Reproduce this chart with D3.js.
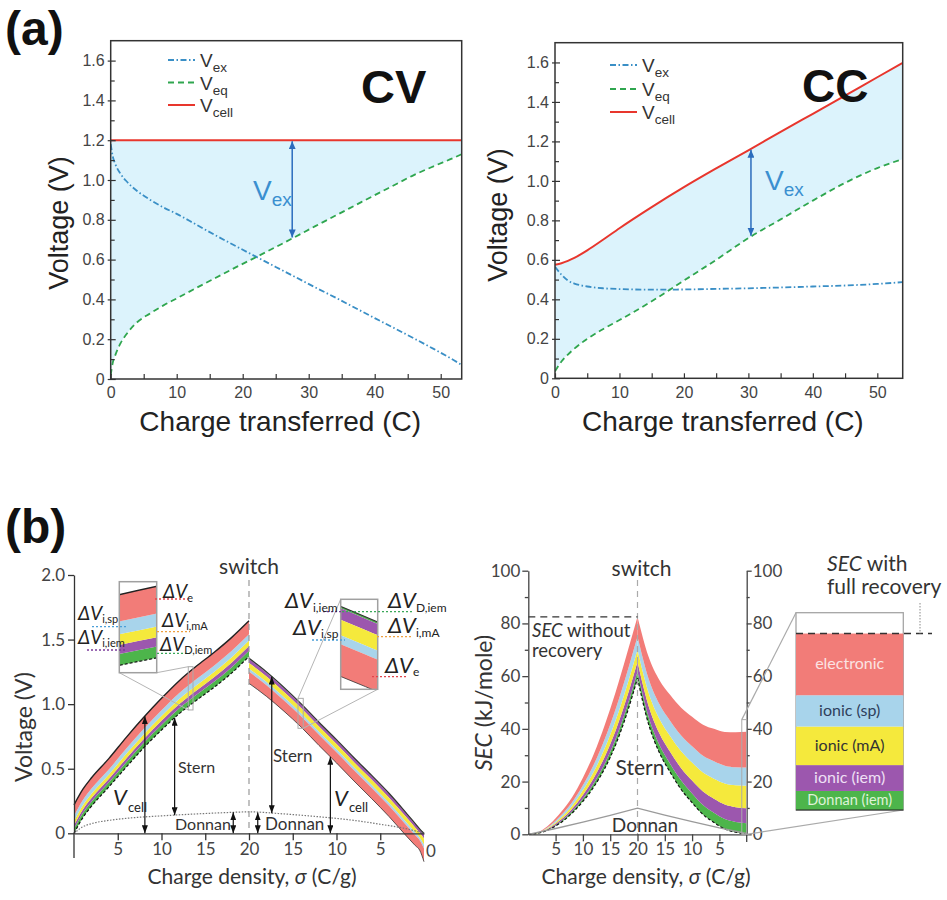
<!DOCTYPE html>
<html>
<head>
<meta charset="utf-8">
<title>Capacitive deionization: voltage and energy breakdown</title>
<script src="https://cdn.jsdelivr.net/npm/d3@7"></script>
<style>
  html, body { margin: 0; padding: 0; background: #fff; }
  svg { display: block; }
  .pa text { font-family: "Liberation Sans", Arial, Helvetica, sans-serif; }
  .pb text { font-family: Lato, "Open Sans", sans-serif; }
</style>
</head>
<body>
<svg id="fig" width="947" height="900"></svg>
<script>
// ================= (a) constant-voltage (CV) charging =================
const cvCharge = [0, 0.3, 0.7, 1.5, 2.5, 4, 6, 8, 10, 13, 16, 19, 22, 25, 28, 31, 34, 37, 40, 43, 46, 49, 52, 53.2];
const cvVeq    = [0.02, 0.08, 0.12, 0.18, 0.23, 0.285, 0.33, 0.37, 0.405, 0.458, 0.51, 0.562, 0.612, 0.663, 0.715, 0.768, 0.82, 0.872, 0.924, 0.975, 1.026, 1.07, 1.112, 1.13];
const cvVex    = [1.18, 1.12, 1.08, 1.03, 0.99, 0.945, 0.9, 0.862, 0.83, 0.775, 0.72, 0.667, 0.615, 0.563, 0.512, 0.46, 0.41, 0.358, 0.306, 0.255, 0.203, 0.15, 0.094, 0.07];
const cvVcellLevel = 1.2;

// ================= (a) constant-current (CC) charging =================
const ccCharge = [0, 1, 2, 3, 5, 7.5, 10, 15, 20, 25, 30, 35, 40, 45, 50, 53.9];
const ccVcell  = [0.575, 0.583, 0.595, 0.61, 0.648, 0.703, 0.76, 0.867, 0.968, 1.063, 1.155, 1.248, 1.34, 1.432, 1.525, 1.597];
const ccVeq    = [0.035, 0.085, 0.12, 0.15, 0.2, 0.25, 0.295, 0.39, 0.495, 0.6, 0.71, 0.805, 0.9, 0.99, 1.065, 1.11];
const ccVex    = [0.565, 0.525, 0.495, 0.48, 0.465, 0.456, 0.452, 0.449, 0.45, 0.453, 0.456, 0.46, 0.465, 0.47, 0.478, 0.487];

const aYTicks = [0, 0.1, 0.2, 0.3, 0.4, 0.5, 0.6, 0.7, 0.8, 0.9, 1.0, 1.1, 1.2, 1.3, 1.4, 1.5, 1.6];
const aXTicks = [0, 5, 10, 15, 20, 25, 30, 35, 40, 45, 50];

// ================= (b) cell voltage breakdown (V) =================
// charging leg: position on axis == sigma
const bSigmaCharge  = [0, 1, 2, 4, 6, 8, 10, 12, 14, 16, 18, 20];
const bBaseCharge   = [0, 0.12, 0.21, 0.36, 0.515, 0.665, 0.80, 0.925, 1.03, 1.13, 1.24, 1.37]; // Stern + Donnan
const bGreenCharge  = [0.035, 0.035, 0.035, 0.035, 0.037, 0.038, 0.039, 0.041, 0.042, 0.043, 0.044, 0.044]; // dV D,iem
const bPurpleCharge = [0.028, 0.028, 0.028, 0.028, 0.03, 0.03, 0.032, 0.033, 0.034, 0.035, 0.036, 0.036]; // dV i,iem
const bYellowCharge = [0.033, 0.033, 0.033, 0.033, 0.035, 0.036, 0.037, 0.039, 0.04, 0.041, 0.042, 0.042]; // dV i,mA
const bBlueCharge   = [0.04, 0.04, 0.04, 0.04, 0.041, 0.042, 0.044, 0.046, 0.048, 0.049, 0.05, 0.05];   // dV i,sp
const bRedCharge    = [0.084, 0.084, 0.084, 0.084, 0.087, 0.089, 0.093, 0.096, 0.101, 0.102, 0.103, 0.103]; // dV e
// discharging leg: sigma runs back from 20 to 0
const bSigmaDischarge = [20, 18, 16, 14, 12, 10, 8, 6, 4, 2, 1, 0.5, 0];
const bTopDischarge   = [1.355, 1.25, 1.13, 1.0, 0.86, 0.725, 0.585, 0.45, 0.31, 0.155, 0.075, 0.035, 0.0];
const bGreenDis  = [0.006, 0.006, 0.006, 0.005, 0.005, 0.005, 0.005, 0.005, 0.005, 0.005, 0.005, 0.005, 0.006];
const bPurpleDis = [0.031, 0.03, 0.03, 0.029, 0.029, 0.029, 0.029, 0.029, 0.029, 0.028, 0.027, 0.026, 0.035];
const bYellowDis = [0.043, 0.042, 0.041, 0.04, 0.04, 0.04, 0.04, 0.04, 0.04, 0.039, 0.037, 0.036, 0.048];
const bBlueDis   = [0.025, 0.025, 0.024, 0.023, 0.023, 0.023, 0.023, 0.023, 0.023, 0.023, 0.022, 0.021, 0.029];
const bRedDis    = [0.089, 0.087, 0.084, 0.083, 0.083, 0.083, 0.083, 0.083, 0.083, 0.082, 0.079, 0.077, 0.102];
// Donnan potential along the whole cycle (axis position 0..40)
const bDonnanPos = [0, 1, 2, 4, 6, 10, 14, 18, 20, 24, 28, 32, 35, 38, 40];
const bDonnanV   = [0, 0.05, 0.075, 0.1, 0.116, 0.135, 0.15, 0.162, 0.166, 0.15, 0.128, 0.1, 0.07, 0.035, 0.0];

const bAxisTicks = [5, 10, 15, 20, 25, 30, 35];
const bAxisTickLabels = ["5", "10", "15", "20", "15", "10", "5"];
const bYTicks = [0, 0.5, 1.0, 1.5, 2.0];

// ================= (b) specific energy consumption (kJ/mole) =================
const secSigmaCharge  = [0, 2, 4, 6, 8, 10, 12, 14, 16, 18, 20];
const secSternCharge  = [0, 0.5, 2, 4.5, 8, 12.5, 18, 25, 34, 45.5, 59.2];
const secGreenCharge  = [0, 0.05, 0.21, 0.43, 0.64, 0.96, 1.34, 1.77, 2.14, 2.41, 2.5];
const secPurpleCharge = [0, 0.08, 0.33, 0.65, 0.98, 1.47, 2.04, 2.69, 3.26, 3.67, 3.8];
const secYellowCharge = [0, 0.1, 0.39, 0.77, 1.16, 1.74, 2.41, 3.18, 3.86, 4.34, 4.5];
const secBlueCharge   = [0, 0.11, 0.43, 0.86, 1.29, 1.94, 2.69, 3.55, 4.3, 4.84, 5.0];
const secRedCharge    = [0, 0.16, 0.64, 1.29, 1.93, 2.89, 4.02, 5.31, 6.44, 7.24, 7.5];
const secSigmaDischarge = [20, 18, 16, 14, 12, 10, 8, 6, 4, 2, 0];
const secSternDis  = [59.2, 42, 31, 23.5, 17, 12, 7.5, 4.5, 2, 0.8, 0.2];
const secGreenDis  = [2.5, 2.8, 3.0, 3.2, 3.4, 3.5, 3.6, 3.7, 3.8, 3.9, 4.0];
const secPurpleDis = [3.8, 4.1, 4.3, 4.5, 4.7, 4.9, 5.1, 5.3, 5.5, 5.6, 5.7];
const secYellowDis = [4.5, 5.0, 5.5, 6.0, 6.4, 6.8, 7.2, 7.6, 8.0, 8.3, 8.5];
const secBlueDis   = [5.0, 5.3, 5.6, 5.8, 6.0, 6.2, 6.4, 6.6, 6.7, 6.8, 6.9];
const secRedDis    = [7.5, 8.3, 9.1, 9.8, 10.5, 11.2, 11.8, 12.3, 12.8, 13.3, 13.6];
const secDonnanPos = [0, 5, 10, 15, 20, 25, 30, 35, 40];
const secDonnan    = [0, 2.2, 4.6, 7.2, 9.9, 7.3, 4.8, 2.4, 0.3];
const secYTicks = [0, 10, 20, 30, 40, 50, 60, 70, 80, 90, 100];
const secBarNames = ["Donnan (iem)", "ionic (iem)", "ionic (mA)", "ionic (sp)", "electronic"];

// layer colours, bottom (Donnan iem) to top (electronic)
const layerFill = ["#4db54b", "#9c57ae", "#f5e93c", "#a8d4eb", "#f27c78"];
const barTextFill = ["#dff3d8", "#efe0f5", "#333333", "#2e3f5c", "#fbe3e3"];

// ---------------------------------------------------------------------
const svg = d3.select("#fig");
const defs = svg.append("defs");

function arrowMarker(id, color, w, h) {
  defs.append("marker").attr("id", id)
    .attr("viewBox", "0 0 10 10").attr("preserveAspectRatio", "none")
    .attr("refX", 10).attr("refY", 5)
    .attr("markerUnits", "userSpaceOnUse")
    .attr("markerWidth", w).attr("markerHeight", h)
    .attr("orient", "auto-start-reverse")
    .append("path").attr("d", "M0,0 L10,5 L0,10 Z").attr("fill", color);
}
arrowMarker("arrBlue", "#2b6cbd", 8, 7);
arrowMarker("arrBlack", "#111", 8, 6);

function lerp(xs, ys, x) {
  const i = Math.max(1, Math.min(xs.length - 1, d3.bisectLeft(xs, x)));
  const x0 = xs[i - 1], x1 = xs[i];
  return ys[i - 1] + (ys[i] - ys[i - 1]) * (x - x0) / (x1 - x0);
}
function stackUp(base, layers) {
  const out = [base.slice()];
  layers.forEach(l => { const p = out[out.length - 1]; out.push(p.map((v, i) => v + l[i])); });
  return out;
}
function stackDown(top, layers) {
  const out = [top.slice()];
  layers.forEach(l => { const p = out[out.length - 1]; out.push(p.map((v, i) => v - l[i])); });
  return out;
}
function subLabel(parent, x, y, main, sub, o) {
  const t = parent.append("text").attr("x", x).attr("y", y)
    .attr("font-size", o.size).attr("fill", o.color || "#222");
  t.append("tspan").text(main).attr("font-style", o.italic ? "italic" : null);
  const s = t.append("tspan").text(sub).attr("font-size", o.subSize).attr("dy", o.subDy);
  if (o.subX != null) s.attr("x", o.subX);
  if (o.subDx) s.attr("dx", o.subDx);
  return t;
}

// ================= panel (a) =================
const styleEx   = { stroke: "#3a8fc6", dash: "6,2.5,1.5,2.5", width: 1.8 };
const styleEq   = { stroke: "#2fa64f", dash: "6,4", width: 1.8 };
const styleCell = { stroke: "#e8362d", dash: null, width: 2 };

function drawPanelA(cfg) {
  const g = svg.append("g").attr("class", "pa");
  const x = d3.scaleLinear([0, cfg.xMax], [cfg.left, cfg.right]);
  const y = d3.scaleLinear([0, 1.7], [cfg.bottom, cfg.top]);
  const clipId = cfg.id + "-clip";
  defs.append("clipPath").attr("id", clipId).append("rect")
    .attr("x", cfg.left).attr("y", cfg.top)
    .attr("width", cfg.right - cfg.left).attr("height", cfg.bottom - cfg.top);
  const plot = g.append("g").attr("clip-path", `url(#${clipId})`);
  const idx = d3.range(cfg.charge.length);

  // excess-voltage region between V_cell and V_eq
  plot.append("path").attr("fill", "#dcf3fc")
    .attr("d", d3.area().x(i => x(cfg.charge[i])).y0(i => y(cfg.veq[i])).y1(i => y(cfg.vcell[i]))
      .curve(d3.curveMonotoneX)(idx));

  const line = arr => d3.line().x(i => x(cfg.charge[i])).y(i => y(arr[i])).curve(d3.curveMonotoneX)(idx);
  [[cfg.vex, styleEx], [cfg.veq, styleEq], [cfg.vcell, styleCell]].forEach(([arr, st]) => {
    plot.append("path").attr("d", line(arr)).attr("fill", "none")
      .attr("stroke", st.stroke).attr("stroke-width", st.width).attr("stroke-dasharray", st.dash);
  });

  // V_ex arrow
  const ac = cfg.arrowC;
  const aTop = lerp(cfg.charge, cfg.vcell, ac), aBot = lerp(cfg.charge, cfg.veq, ac);
  g.append("line").attr("x1", x(ac)).attr("x2", x(ac)).attr("y1", y(aTop) + 1).attr("y2", y(aBot) - 1)
    .attr("stroke", "#2b6cbd").attr("stroke-width", 1.5)
    .attr("marker-start", "url(#arrBlue)").attr("marker-end", "url(#arrBlue)");
  subLabel(g, cfg.vexLabel[0], cfg.vexLabel[1], "V", "ex", { size: 28, subSize: 19, subDy: 6, color: "#3a8fd0" });

  // frame
  g.append("rect").attr("x", cfg.left).attr("y", cfg.top)
    .attr("width", cfg.right - cfg.left).attr("height", cfg.bottom - cfg.top)
    .attr("fill", "none").attr("stroke", "#333").attr("stroke-width", 1.5);

  // axes
  const ya = g.append("g").attr("transform", `translate(${cfg.left},0)`)
    .call(d3.axisLeft(y).tickValues(aYTicks).tickSize(0).tickPadding(6)
      .tickFormat((d, i) => i % 2 ? "" : (d === 0 ? "0" : d.toFixed(1))));
  ya.select(".domain").remove();
  ya.selectAll(".tick line").attr("x1", (d, i) => i % 2 ? 0 : -3).attr("x2", (d, i) => i % 2 ? 4 : 5)
    .attr("stroke", "#333").attr("stroke-width", 1.2);
  ya.selectAll("text").attr("font-size", 16).attr("fill", "#444");

  const xa = g.append("g").attr("transform", `translate(0,${cfg.bottom})`)
    .call(d3.axisBottom(x).tickValues(aXTicks).tickSize(-5).tickPadding(8)
      .tickFormat(d => d % 10 === 0 ? d : ""));
  xa.select(".domain").remove();
  xa.selectAll(".tick line").attr("stroke", "#333").attr("stroke-width", 1.2);
  xa.selectAll("text").attr("font-size", 16).attr("fill", "#444");

  g.append("text").attr("x", (cfg.left + cfg.right) / 2 - 6).attr("y", 431).attr("text-anchor", "middle")
    .attr("font-size", 28).attr("fill", "#222").text("Charge transferred (C)");
  g.append("text").attr("transform", `translate(${cfg.yTitleX},${cfg.yTitleY}) rotate(-90)`)
    .attr("text-anchor", "middle").attr("font-size", 27).attr("fill", "#222").text("Voltage (V)");

  // legend
  const leg = [["ex", styleEx], ["eq", styleEq], ["cell", styleCell]];
  leg.forEach(([s, st], i) => {
    const ry = cfg.legend.rows[i];
    g.append("line").attr("x1", cfg.legend.x).attr("x2", cfg.legend.x + 27).attr("y1", ry).attr("y2", ry)
      .attr("stroke", st.stroke).attr("stroke-width", st.width).attr("stroke-dasharray", st.dash);
    subLabel(g, cfg.legend.x + 32, ry + 7, "V", s, { size: 19, subSize: 13.5, subDy: 5, color: "#333" });
  });

  g.append("text").attr("x", cfg.tag[0]).attr("y", cfg.tag[1]).attr("font-size", cfg.tag[2])
    .attr("font-weight", "bold").attr("fill", "#111").text(cfg.tag[3]);
}

drawPanelA({
  id: "cv", left: 110.7, right: 461.7, top: 40.7, bottom: 379, xMax: 53.18,
  charge: cvCharge, veq: cvVeq, vex: cvVex, vcell: cvCharge.map(() => cvVcellLevel),
  arrowC: 27.5, vexLabel: [253, 200], yTitleX: 68, yTitleY: 223,
  legend: { x: 168, rows: [60, 82.5, 105] }, tag: [361, 103, 47, "CV"]
});
drawPanelA({
  id: "cc", left: 555, right: 902.7, top: 42.7, bottom: 378.3, xMax: 53.94,
  charge: ccCharge, veq: ccVeq, vex: ccVex, vcell: ccVcell,
  arrowC: 30.4, vexLabel: [765, 190], yTitleX: 507, yTitleY: 215,
  legend: { x: 610, rows: [65, 89, 112] }, tag: [802, 102, 46, "CC"]
});

// panel tags
const tags = svg.append("g").attr("class", "pa");
tags.append("text").attr("x", 5).attr("y", 45).attr("font-size", 48).attr("font-weight", "bold").attr("fill", "#111").text("(a)");
tags.append("text").attr("x", 5).attr("y", 543).attr("font-size", 48).attr("font-weight", "bold").attr("fill", "#111").text("(b)");

// ================= panel (b), left: voltage breakdown =================
const gb = svg.append("g").attr("class", "pb");
const bx = d3.scaleLinear([0, 40], [74, 424]);
const by = d3.scaleLinear([0, 2], [833.3, 575]);
const bChPos = bSigmaCharge;
const bDisPos = bSigmaDischarge.map(s => 40 - s);
const bChB = stackUp(bBaseCharge, [bGreenCharge, bPurpleCharge, bYellowCharge, bBlueCharge, bRedCharge]);
const bDisB = stackDown(bTopDischarge, [bGreenDis, bPurpleDis, bYellowDis, bBlueDis, bRedDis]);

function drawVoltageBands(parent, X, Y, lw) {
  const chIdx = d3.range(bChPos.length), disIdx = d3.range(bDisPos.length);
  for (let k = 0; k < 5; k++) {
    parent.append("path").attr("fill", layerFill[k])
      .attr("d", d3.area().x(i => X(bChPos[i])).y0(i => Y(bChB[k][i])).y1(i => Y(bChB[k + 1][i]))
        .curve(d3.curveMonotoneX)(chIdx));
    parent.append("path").attr("fill", layerFill[k])
      .attr("d", d3.area().x(i => X(bDisPos[i])).y0(i => Y(bDisB[k][i])).y1(i => Y(bDisB[k + 1][i]))
        .curve(d3.curveMonotoneX)(disIdx));
  }
  const ln = (pos, arr) => d3.line().x(i => X(pos[i])).y(i => Y(arr[i])).curve(d3.curveMonotoneX)(d3.range(pos.length));
  parent.append("path").attr("d", ln(bChPos, bChB[5])).attr("fill", "none").attr("stroke", "#222").attr("stroke-width", 1.4 * lw);
  parent.append("path").attr("d", ln(bChPos, bChB[0])).attr("fill", "none").attr("stroke", "#111")
    .attr("stroke-width", 1.2 * lw).attr("stroke-dasharray", `${3 * lw},${2 * lw}`);
  parent.append("path").attr("d", ln(bDisPos, bDisB[0])).attr("fill", "none").attr("stroke", "#333").attr("stroke-width", 1.2 * lw);
  parent.append("path").attr("d", ln(bDisPos, bDisB[5])).attr("fill", "none").attr("stroke", "#333").attr("stroke-width", 0.8 * lw);
}
drawVoltageBands(gb.append("g"), bx, by, 1);

// Donnan potential
gb.append("path")
  .attr("d", d3.line().x(i => bx(bDonnanPos[i])).y(i => by(bDonnanV[i])).curve(d3.curveMonotoneX)(d3.range(bDonnanPos.length)))
  .attr("fill", "none").attr("stroke", "#777").attr("stroke-width", 1.2).attr("stroke-dasharray", "1.5,1.5");

// switch line
gb.append("line").attr("x1", bx(20)).attr("x2", bx(20)).attr("y1", 580).attr("y2", by(0))
  .attr("stroke", "#999").attr("stroke-width", 1.2).attr("stroke-dasharray", "6,5");
gb.append("text").attr("x", bx(20)).attr("y", 574).attr("text-anchor", "middle").attr("font-size", 21).attr("fill", "#333").text("switch");

// axes
const byAx = gb.append("g").attr("transform", `translate(${bx(0)},0)`)
  .call(d3.axisLeft(by).tickValues(bYTicks).tickSize(6).tickSizeOuter(0).tickPadding(3)
    .tickFormat(d => d === 0 ? "0" : d.toFixed(1)));
byAx.selectAll("text").attr("font-size", 17).attr("fill", "#444");
byAx.selectAll("path,line").attr("stroke", "#333").attr("stroke-width", 1.3);
gb.append("line").attr("x1", bx(0)).attr("x2", bx(0)).attr("y1", by(0)).attr("y2", 858).attr("stroke", "#333").attr("stroke-width", 1.3);
const bxAx = gb.append("g").attr("transform", `translate(0,${by(0)})`)
  .call(d3.axisBottom(bx).tickValues(bAxisTicks).tickSize(7).tickSizeOuter(0).tickPadding(3)
    .tickFormat((d, i) => bAxisTickLabels[i]));
bxAx.selectAll("text").attr("font-size", 17).attr("fill", "#444");
bxAx.selectAll("path,line").attr("stroke", "#333").attr("stroke-width", 1.3);
gb.append("text").attr("x", bx(40) + 7).attr("y", 857).attr("text-anchor", "middle").attr("font-size", 17).attr("fill", "#444").text("0");

const bxTitle = gb.append("text").attr("x", 252).attr("y", 884).attr("text-anchor", "middle").attr("font-size", 21).attr("fill", "#333");
bxTitle.append("tspan").text("Charge density, ");
bxTitle.append("tspan").attr("font-style", "italic").text("σ");
bxTitle.append("tspan").text(" (C/g)");
gb.append("text").attr("transform", "translate(32,727) rotate(-90)").attr("text-anchor", "middle")
  .attr("font-size", 23).attr("fill", "#333").text("Voltage (V)");

// arrows: position on axis, lower end, upper end
const ch = (arr) => (t) => lerp(bChPos, arr, t);
const dis = (arr) => (t) => lerp(bDisPos, arr, t);
const donnanAt = (t) => lerp(bDonnanPos, bDonnanV, t);
const bArrows = [
  [8.1, () => 0, ch(bChB[5])],
  [11.5, donnanAt, ch(bChB[0])],
  [18.2, () => 0, donnanAt],
  [21.0, () => 0, donnanAt],
  [22.6, donnanAt, dis(bDisB[0])],
  [29.3, () => 0, dis(bDisB[5])]
];
bArrows.forEach(([t, lo, hi]) => {
  gb.append("line").attr("x1", bx(t)).attr("x2", bx(t)).attr("y1", by(lo(t))).attr("y2", by(hi(t)))
    .attr("stroke", "#111").attr("stroke-width", 1.2)
    .attr("marker-start", "url(#arrBlack)").attr("marker-end", "url(#arrBlack)");
});
subLabel(gb, 113, 805, "V", "cell", { size: 22, subSize: 13, subDy: 7, subX: 128, italic: true, color: "#222" });
subLabel(gb, 334, 806, "V", "cell", { size: 22, subSize: 13, subDy: 6, subX: 349, italic: true, color: "#222" });
gb.append("text").attr("x", 178).attr("y", 773).attr("font-size", 16).attr("fill", "#333").text("Stern");
gb.append("text").attr("x", 273).attr("y", 762).attr("font-size", 17).attr("fill", "#333").text("Stern");
gb.append("text").attr("x", 175).attr("y", 830).attr("font-size", 16).attr("fill", "#333").text("Donnan");
gb.append("text").attr("x", 265).attr("y", 830).attr("font-size", 17).attr("fill", "#333").text("Donnan");

// magnified insets of the band
function drawInset(id, tRange, vRange, box, smallLinks) {
  const X = d3.scaleLinear(tRange, [box.x0, box.x1]);
  const Y = d3.scaleLinear(vRange, [box.y1, box.y0]);
  defs.append("clipPath").attr("id", id).append("rect")
    .attr("x", box.x0).attr("y", box.y0).attr("width", box.x1 - box.x0).attr("height", box.y1 - box.y0);
  // small frame on the main curve
  gb.append("rect").attr("x", bx(tRange[0])).attr("y", by(vRange[1]))
    .attr("width", bx(tRange[1]) - bx(tRange[0])).attr("height", by(vRange[0]) - by(vRange[1]))
    .attr("fill", "none").attr("stroke", "#aaa").attr("stroke-width", 1);
  smallLinks.forEach(([px, py, tt, vv]) => {
    gb.append("line").attr("x1", px).attr("y1", py).attr("x2", bx(tt)).attr("y2", by(vv))
      .attr("stroke", "#b5b5b5").attr("stroke-width", 1);
  });
  gb.append("rect").attr("x", box.x0).attr("y", box.y0).attr("width", box.x1 - box.x0).attr("height", box.y1 - box.y0)
    .attr("fill", "#fff");
  drawVoltageBands(gb.append("g").attr("clip-path", `url(#${id})`), X, Y, 1);
  gb.append("rect").attr("x", box.x0).attr("y", box.y0).attr("width", box.x1 - box.x0).attr("height", box.y1 - box.y0)
    .attr("fill", "none").attr("stroke", "#a0a0a0").attr("stroke-width", 1.5);
}
drawInset("insetCh", [13.06, 13.6], [0.955, 1.29], { x0: 119.3, x1: 156.7, y0: 581.7, y1: 672.7 },
  [[119.3, 672.7, 13.06, 0.955], [156.7, 672.7, 13.06, 1.29]]);
drawInset("insetDis", [25.6, 26.2], [0.813, 1.045], { x0: 340.7, x1: 377.7, y0: 599.3, y1: 689.3 },
  [[340.7, 599.3, 25.6, 1.045], [377.7, 689.3, 26.2, 0.813]]);

// inset annotations (dotted leaders + labels)
const leaders = [
  [155, 188, 599, "#e0454c"], [92, 128, 626.7, "#4a9fd8"], [157, 190, 631.7, "#eea040"],
  [87, 127, 650, "#7b3a9b"], [157, 190, 653.3, "#3aa85a"],
  [323, 342, 611.7, "#7b3a9b"], [342, 413, 611.7, "#3aa85a"], [312, 345, 640, "#4a9fd8"],
  [377, 413, 636.7, "#eea040"], [372, 407, 676.7, "#e0454c"]
];
leaders.forEach(([xa, xb, yy, c]) => {
  gb.append("line").attr("x1", xa).attr("x2", xb).attr("y1", yy).attr("y2", yy)
    .attr("stroke", c).attr("stroke-width", 1.3).attr("stroke-dasharray", "2,2");
});
const dLabels = [
  [163, 598, "e", 19, 11, 4], [78, 620, "i,sp", 19, 11, 3], [162, 627, "i,mA", 19, 11, 3],
  [78, 644, "i,iem", 19, 11, 3], [160, 651, "D,iem", 19, 11, 3],
  [285, 608, "i,iem", 22, 12, 4], [388, 608, "D,iem", 22, 12, 4], [293, 635, "i,sp", 22, 12, 3],
  [388, 633, "i,mA", 22, 12, 4], [385, 673, "e", 22, 12, 3]
];
dLabels.forEach(([x, y, s, fs, ss, dy]) => {
  subLabel(gb, x, y, "ΔV", s, { size: fs, subSize: ss, subDy: dy, italic: true, color: "#222" });
});

// ================= panel (b), right: SEC =================
const gs = svg.append("g").attr("class", "pb");
const sx = d3.scaleLinear([0, 40], [528.3, 746.7]);
const sy = d3.scaleLinear([0, 100], [834.3, 570.7]);
const sChPos = secSigmaCharge;
const sDisPos = secSigmaDischarge.map(s => 40 - s);
const sChB = stackUp(secSternCharge, [secGreenCharge, secPurpleCharge, secYellowCharge, secBlueCharge, secRedCharge]);
const sDisB = stackUp(secSternDis, [secGreenDis, secPurpleDis, secYellowDis, secBlueDis, secRedDis]);

[[sChPos, sChB], [sDisPos, sDisB]].forEach(([pos, B]) => {
  const idx = d3.range(pos.length);
  for (let k = 0; k < 5; k++) {
    gs.append("path").attr("fill", layerFill[k])
      .attr("d", d3.area().x(i => sx(pos[i])).y0(i => sy(B[k][i])).y1(i => sy(B[k + 1][i])).curve(d3.curveMonotoneX)(idx));
  }
  gs.append("path").attr("d", d3.line().x(i => sx(pos[i])).y(i => sy(B[0][i])).curve(d3.curveMonotoneX)(idx))
    .attr("fill", "none").attr("stroke", "#111").attr("stroke-width", 1.2).attr("stroke-dasharray", "3,2");
});

// Donnan contribution
gs.append("path")
  .attr("d", d3.line().x(i => sx(secDonnanPos[i])).y(i => sy(secDonnan[i]))(d3.range(secDonnanPos.length)))
  .attr("fill", "none").attr("stroke", "#9a9a9a").attr("stroke-width", 1.3);

// switch line
gs.append("line").attr("x1", sx(20)).attr("x2", sx(20)).attr("y1", 580).attr("y2", sy(0))
  .attr("stroke", "#aaa").attr("stroke-width", 1.2).attr("stroke-dasharray", "6,5");
gs.append("text").attr("x", sx(20) + 4).attr("y", 576).attr("text-anchor", "middle").attr("font-size", 21).attr("fill", "#333").text("switch");

// SEC at the switch point (no energy recovery)
const secPeak = sChB[5][sChB[5].length - 1];
gs.append("line").attr("x1", sx(0)).attr("x2", sx(20)).attr("y1", sy(secPeak)).attr("y2", sy(secPeak))
  .attr("stroke", "#333").attr("stroke-width", 1.4).attr("stroke-dasharray", "7,5");
const t1 = gs.append("text").attr("x", 532).attr("y", 637).attr("font-size", 18.5).attr("fill", "#333");
t1.append("tspan").attr("font-style", "italic").text("SEC");
t1.append("tspan").text(" without");
gs.append("text").attr("x", 532).attr("y", 657).attr("font-size", 18.5).attr("fill", "#333").text("recovery");
gs.append("text").attr("x", 640).attr("y", 775).attr("text-anchor", "middle").attr("font-size", 21).attr("fill", "#333").text("Stern");
gs.append("text").attr("x", 645).attr("y", 832).attr("text-anchor", "middle").attr("font-size", 19).attr("fill", "#333").text("Donnan");

// axes
const sL = gs.append("g").attr("transform", `translate(${sx(0)},0)`)
  .call(d3.axisLeft(sy).tickValues(secYTicks).tickSize(6).tickSizeOuter(0).tickPadding(2)
    .tickFormat(d => d % 20 ? "" : d));
sL.selectAll(".tick line").attr("x2", d => d % 20 ? -3.5 : -6);
sL.selectAll("path,line").attr("stroke", "#444").attr("stroke-width", 1.3);
sL.selectAll("text").attr("font-size", 17).attr("fill", "#444");
const sR = gs.append("g").attr("transform", `translate(${sx(40)},0)`)
  .call(d3.axisRight(sy).tickValues(secYTicks).tickSize(5).tickSizeOuter(0).tickPadding(1)
    .tickFormat(d => d % 20 ? "" : d));
sR.selectAll(".tick line").attr("x2", d => d % 20 ? 3 : 5);
sR.selectAll("path,line").attr("stroke", "#444").attr("stroke-width", 1.3);
sR.selectAll("text").attr("font-size", 17).attr("fill", "#444");
gs.append("line").attr("x1", sx(40)).attr("x2", sx(40)).attr("y1", sy(0)).attr("y2", 842).attr("stroke", "#444").attr("stroke-width", 1.3);
const sB = gs.append("g").attr("transform", `translate(0,${sy(0)})`)
  .call(d3.axisBottom(sx).tickValues(bAxisTicks).tickSize(7).tickSizeOuter(0).tickPadding(2)
    .tickFormat((d, i) => bAxisTickLabels[i]));
sB.selectAll("path,line").attr("stroke", "#444").attr("stroke-width", 1.3);
sB.selectAll("text").attr("font-size", 17).attr("fill", "#444");

const sxTitle = gs.append("text").attr("x", 646).attr("y", 884).attr("text-anchor", "middle").attr("font-size", 21).attr("fill", "#333");
sxTitle.append("tspan").text("Charge density, ");
sxTitle.append("tspan").attr("font-style", "italic").text("σ");
sxTitle.append("tspan").text(" (C/g)");
const syTitle = gs.append("text").attr("transform", "translate(492,703) rotate(-90)").attr("text-anchor", "middle")
  .attr("font-size", 23).attr("fill", "#333");
syTitle.append("tspan").attr("font-style", "italic").text("SEC");
syTitle.append("tspan").text(" (kJ/mole)");

// breakdown bar of the final SEC (full recovery), magnified
const finalB = sDisB.map(b => b[b.length - 1]);
const barTop = 43.5;
const barY = d3.scaleLinear([0, barTop], [810, 612.7]);
const barX0 = 796, barX1 = 903.3;
gs.append("rect").attr("x", sx(39.1)).attr("y", sy(barTop)).attr("width", sx(40) - sx(39.1)).attr("height", sy(0) - sy(barTop))
  .attr("fill", "none").attr("stroke", "#aaa").attr("stroke-width", 1);
gs.append("line").attr("x1", sx(39.1)).attr("y1", sy(barTop)).attr("x2", barX0).attr("y2", barY(barTop)).attr("stroke", "#aaa").attr("stroke-width", 1.2);
gs.append("line").attr("x1", sx(40)).attr("y1", sy(0)).attr("x2", barX1).attr("y2", barY(0)).attr("stroke", "#aaa").attr("stroke-width", 1.2);
gs.append("rect").attr("x", barX0).attr("y", barY(barTop)).attr("width", barX1 - barX0).attr("height", barY(0) - barY(barTop))
  .attr("fill", "#fff").attr("stroke", "#a5a5a5").attr("stroke-width", 1.3);
for (let k = 0; k < 5; k++) {
  const lo = k === 0 ? 0 : finalB[k], hi = finalB[k + 1];
  gs.append("rect").attr("x", barX0).attr("width", barX1 - barX0)
    .attr("y", barY(hi)).attr("height", barY(lo) - barY(hi)).attr("fill", layerFill[k]);
  gs.append("text").attr("x", (barX0 + barX1) / 2).attr("y", barY((lo + hi) / 2) + 5)
    .attr("text-anchor", "middle").attr("font-size", k === 0 ? 14.5 : 16).attr("fill", barTextFill[k]).text(secBarNames[k]);
}
gs.append("line").attr("x1", barX0).attr("x2", barX1).attr("y1", barY(0)).attr("y2", barY(0)).attr("stroke", "#222").attr("stroke-width", 1);
const fullY = barY(finalB[5]);
gs.append("line").attr("x1", barX0).attr("x2", 932).attr("y1", fullY).attr("y2", fullY)
  .attr("stroke", "#333").attr("stroke-width", 1.4).attr("stroke-dasharray", "7,5");
gs.append("line").attr("x1", 920).attr("x2", 920).attr("y1", 603).attr("y2", fullY)
  .attr("stroke", "#888").attr("stroke-width", 1).attr("stroke-dasharray", "1.5,1.5");
const t2 = gs.append("text").attr("x", 827).attr("y", 571).attr("font-size", 21).attr("fill", "#333");
t2.append("tspan").attr("font-style", "italic").text("SEC");
t2.append("tspan").text(" with");
gs.append("text").attr("x", 827).attr("y", 594).attr("font-size", 21).attr("fill", "#333").text("full recovery");
</script>
</body>
</html>
